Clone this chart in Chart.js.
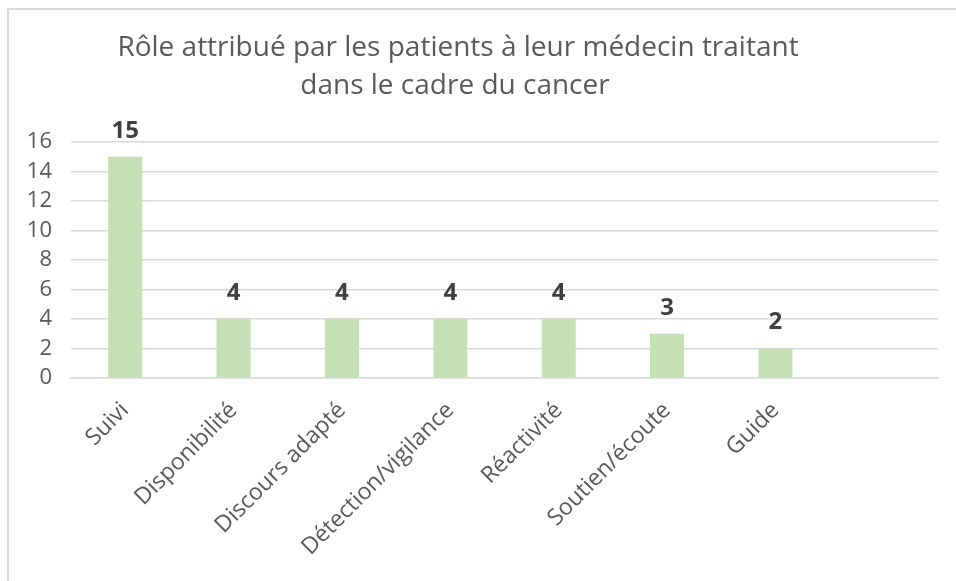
<!DOCTYPE html>
<html>
<head>
<meta charset="utf-8">
<script src="https://cdn.jsdelivr.net/npm/chart.js@4.4.0/dist/chart.umd.min.js"></script>
<style>
  html, body { margin: 0; padding: 0; background: #fff; overflow: hidden; }
  #frame { position: absolute; left: 7px; top: 8px; width: 1000px; height: 700px;
           border-left: 2px solid #d9d9d9; border-top: 2px solid #d9d9d9; }
  #wrap { position: absolute; left: 0; top: 0; width: 956px; height: 581px; }
</style>
</head>
<body>
<div id="frame"></div>
<div id="wrap"><canvas id="chart" width="956" height="581"></canvas></div>
<script>
// data
const titleLines = ['Rôle attribué par les patients à leur médecin traitant', 'dans le cadre du cancer'];
const categories = ['Suivi', 'Disponibilité', 'Discours adapté', 'Détection/vigilance', 'Réactivité', 'Soutien/écoute', 'Guide', ''];
const counts = [15, 4, 4, 4, 4, 3, 2, null];
const yTicks = [0, 2, 4, 6, 8, 10, 12, 14, 16];

const FONT = '"Open Sans", "DejaVu Sans", sans-serif';

// title drawn by hand so it sits where Excel put it
const titlePlugin = {
  id: 'twoLineTitle',
  afterDraw(chart) {
    const c = chart.ctx;
    c.save();
    c.fillStyle = '#595959';
    c.font = '28px ' + FONT;
    c.textAlign = 'center';
    c.textBaseline = 'middle';
    c.fillText(titleLines[0], 458, 48);
    c.fillText(titleLines[1], 455, 86);
    c.restore();
  }
};

// bold value above each bar
const valueLabels = {
  id: 'valueLabels',
  afterDatasetsDraw(chart) {
    const c = chart.ctx;
    const meta = chart.getDatasetMeta(0);
    c.save();
    c.fillStyle = '#404040';
    c.font = 'bold 24px ' + FONT;
    c.textAlign = 'center';
    c.textBaseline = 'bottom';
    meta.data.forEach((bar, i) => {
      if (counts[i] == null) return;
      c.fillText(String(counts[i]), bar.x, bar.y - 14);
    });
    c.restore();
  }
};

new Chart(document.getElementById('chart').getContext('2d'), {
  type: 'bar',
  data: {
    labels: categories,
    datasets: [{
      data: counts,
      backgroundColor: '#c5e0b4',
      borderWidth: 0,
      categoryPercentage: 1,
      barPercentage: 0.314
    }]
  },
  options: {
    responsive: false,
    animation: false,
    layout: { padding: { left: 20, right: 18, top: 142, bottom: 0 } },
    plugins: {
      legend: { display: false },
      tooltip: { enabled: false },
      title: { display: false }
    },
    scales: {
      x: {
        grid: { display: false, drawTicks: false },
        border: { color: '#d9d9d9', width: 1.5 },
        ticks: {
          color: '#595959',
          font: { family: FONT, size: 23 },
          maxRotation: 45,
          minRotation: 45,
          autoSkip: false,
          padding: 19
        },
        afterFit(scale) { scale.height = 203; }
      },
      y: {
        min: 0,
        max: 16,
        afterBuildTicks(scale) { scale.ticks = yTicks.map(v => ({ value: v })); },
        grid: { color: '#d9d9d9', lineWidth: 1.5, drawTicks: false },
        border: { display: false },
        ticks: {
          color: '#595959',
          font: { family: FONT, size: 22 },
          padding: 19
        },
        afterFit(scale) { scale.width = 51; }
      }
    }
  },
  plugins: [titlePlugin, valueLabels]
});
</script>
</body>
</html>
